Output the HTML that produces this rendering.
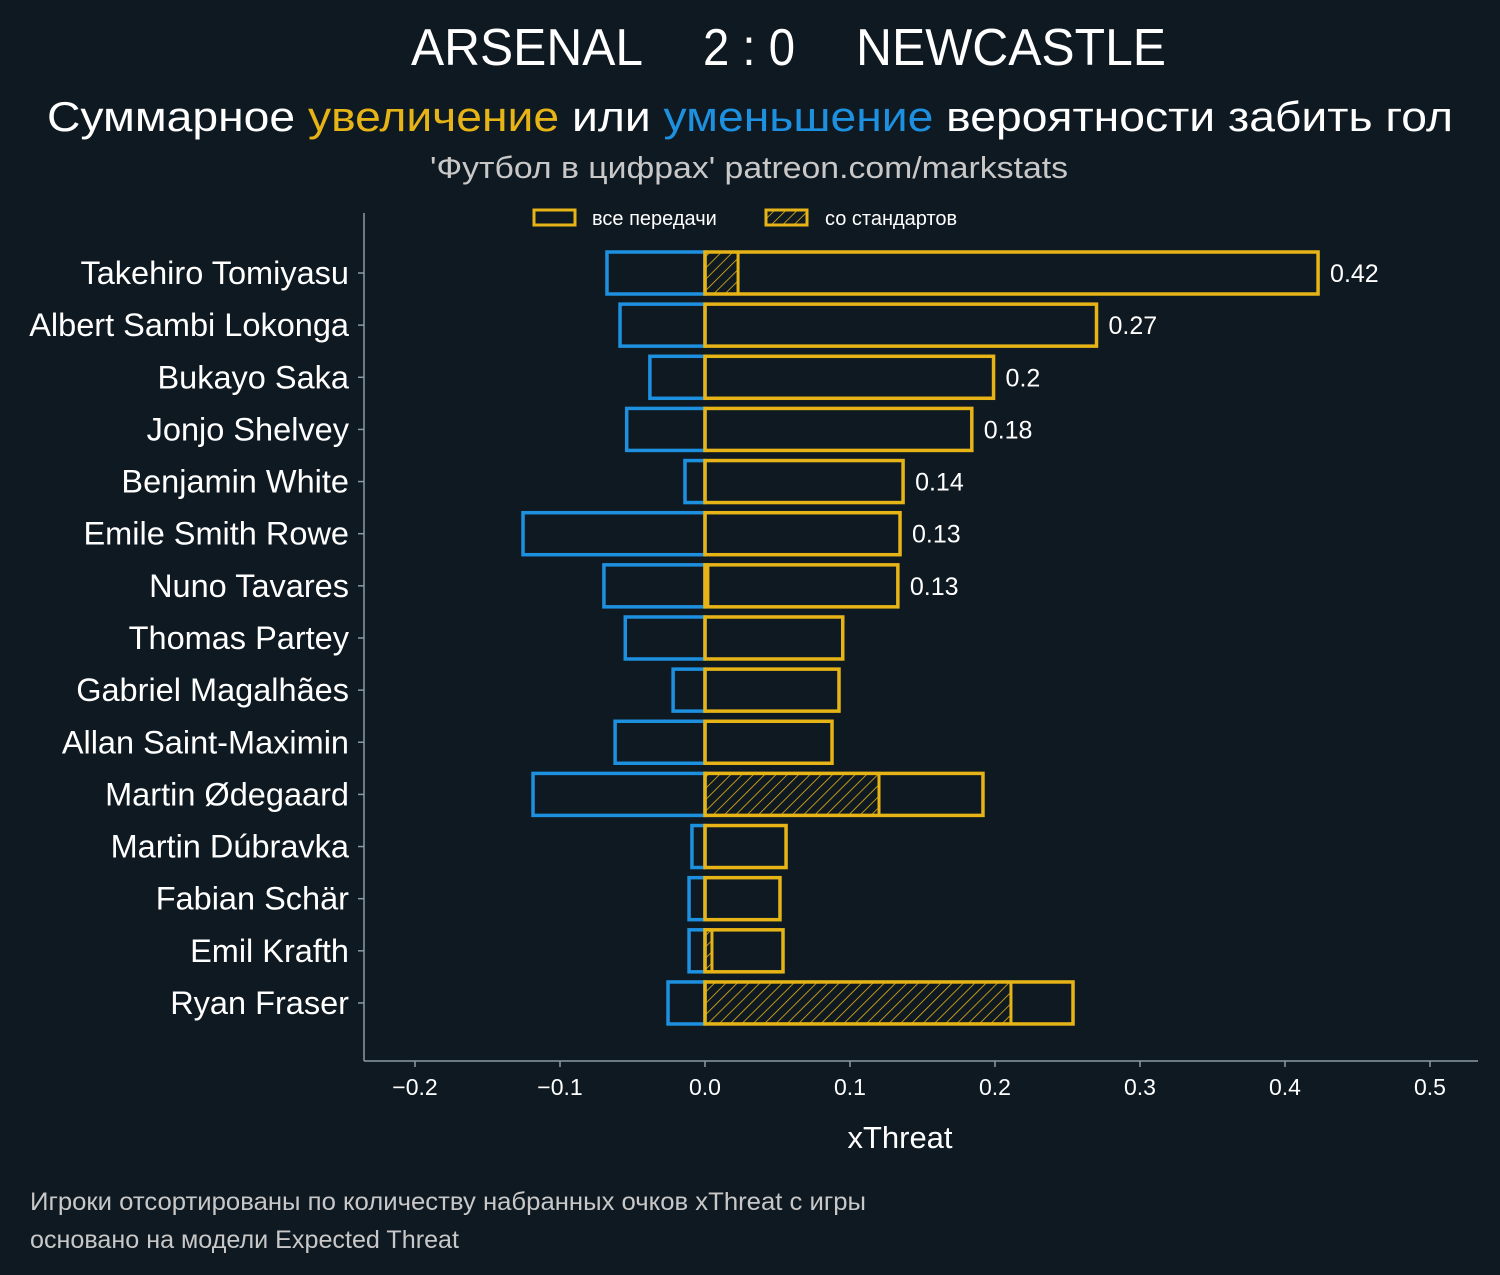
<!DOCTYPE html>
<html><head><meta charset="utf-8"><style>
body{margin:0;background:#0f1921;}
svg{display:block;font-family:"Liberation Sans","DejaVu Sans",sans-serif;}
</style></head><body>
<svg id="chart" width="1500" height="1275" viewBox="0 0 1500 1275">
<defs>
<pattern id="hatch" patternUnits="userSpaceOnUse" width="8" height="8" patternTransform="rotate(45)">
<line x1="0" y1="0" x2="0" y2="8" stroke="#e6b416" stroke-width="1.6"/>
</pattern>
</defs>
<rect width="1500" height="1275" fill="#0f1921"/>
<g fill="#fff" font-size="52" text-anchor="middle">
<text x="527" y="65" textLength="232" lengthAdjust="spacingAndGlyphs">ARSENAL</text>
<text x="749" y="65" textLength="92" lengthAdjust="spacingAndGlyphs">2 : 0</text>
<text x="1011" y="65" textLength="310" lengthAdjust="spacingAndGlyphs">NEWCASTLE</text>
</g>
<text x="750" y="131" fill="#fff" font-size="42" text-anchor="middle" textLength="1406" lengthAdjust="spacingAndGlyphs">Суммарное <tspan fill="#e6b416">увеличение</tspan> или <tspan fill="#1e90e0">уменьшение</tspan> вероятности забить гол</text>
<text x="749" y="178" fill="#c8c8c8" font-size="31" text-anchor="middle" textLength="638" lengthAdjust="spacingAndGlyphs">'Футбол в цифрах' patreon.com/markstats</text>
<g>
<rect x="534" y="210" width="41" height="15" fill="none" stroke="#e6b416" stroke-width="3"/>
<text x="592" y="225" fill="#fff" font-size="20">все передачи</text>
<rect x="766" y="210" width="41" height="15" fill="url(#hatch)" stroke="#e6b416" stroke-width="3"/>
<text x="825" y="225" fill="#fff" font-size="20">со стандартов</text>
</g>
<line x1="364" y1="213" x2="364" y2="1061" stroke="#8a9aa5" stroke-width="1.5"/>
<line x1="364" y1="1061" x2="1478" y2="1061" stroke="#8a9aa5" stroke-width="1.5"/>
<g id="plot"></g>
<text x="900" y="1148" fill="#fff" font-size="31" text-anchor="middle">xThreat</text>
<text x="30" y="1210" fill="#c8c8c8" font-size="25" textLength="836" lengthAdjust="spacingAndGlyphs">Игроки отсортированы по количеству набранных очков xThreat с игры</text>
<text x="30" y="1248" fill="#c8c8c8" font-size="25" textLength="429" lengthAdjust="spacingAndGlyphs">основано на модели Expected Threat</text>
</svg>
<script>
const players=["Takehiro Tomiyasu","Albert Sambi Lokonga","Bukayo Saka","Jonjo Shelvey","Benjamin White","Emile Smith Rowe","Nuno Tavares","Thomas Partey","Gabriel Magalhães","Allan Saint-Maximin","Martin Ødegaard","Martin Dúbravka","Fabian Schär","Emil Krafth","Ryan Fraser"];
const positive=[0.4228,0.270,0.199,0.184,0.1366,0.1345,0.133,0.095,0.0924,0.0876,0.1917,0.0559,0.0517,0.0538,0.2538];
const setPiece=[0.0228,0,0,0,0,0,0.002,0,0,0,0.120,0,0,0.0048,0.211];
const negative=[-0.0676,-0.0586,-0.038,-0.054,-0.0138,-0.1255,-0.0697,-0.055,-0.022,-0.062,-0.1186,-0.009,-0.011,-0.011,-0.0255];
const valueLabels=["0.42","0.27","0.2","0.18","0.14","0.13","0.13","","","","","","","",""];
const xTicks=[-0.2,-0.1,0.0,0.1,0.2,0.3,0.4,0.5];
const xTickLabels=["−0.2","−0.1","0.0","0.1","0.2","0.3","0.4","0.5"];

const NS="http://www.w3.org/2000/svg";
const g=document.getElementById('plot');
const X=v=>705+v*1450;
const Y=i=>273+i*52.14;
const BH=42;
function mk(tag,a){const e=document.createElementNS(NS,tag);for(const k in a)e.setAttribute(k,a[k]);g.appendChild(e);return e;}
xTicks.forEach((t,i)=>{
  const l=mk('line',{x1:X(t),x2:X(t),y1:1061,y2:1067,stroke:'#8a9aa5','stroke-width':1.5});
  
  
  const tx=mk('text',{x:X(t),y:1095,fill:'#fff','font-size':23,'text-anchor':'middle'});
  tx.textContent=xTickLabels[i];
  
  
});
players.forEach((p,i)=>{
  const y=Y(i);
  const tk=mk('line',{x1:358,x2:364,y1:y,y2:y,stroke:'#8a9aa5','stroke-width':1.5});
  
  
  const lb=mk('text',{x:349,y:y+11,fill:'#fff','font-size':32.5,'text-anchor':'end'});
  lb.textContent=p;
  
  
  const nb=mk('rect',{x:X(negative[i]),y:y-BH/2,width:X(0)-X(negative[i]),height:BH,fill:'none',stroke:'#1e90e0','stroke-width':3.5});
  
  
  if(setPiece[i]>0){
    const hb=mk('rect',{x:X(0),y:y-BH/2,width:X(setPiece[i])-X(0),height:BH,fill:'url(#hatch)',stroke:'#e6b416','stroke-width':3});
    
    
  }
  const pb=mk('rect',{x:X(0),y:y-BH/2,width:X(positive[i])-X(0),height:BH,fill:'none',stroke:'#e6b416','stroke-width':3.5});
  
  
  if(valueLabels[i]){
    const vl=mk('text',{x:X(positive[i])+12,y:y+9,fill:'#fff','font-size':25});
    vl.textContent=valueLabels[i];
    
    
  }
});
</script>
</body></html>
